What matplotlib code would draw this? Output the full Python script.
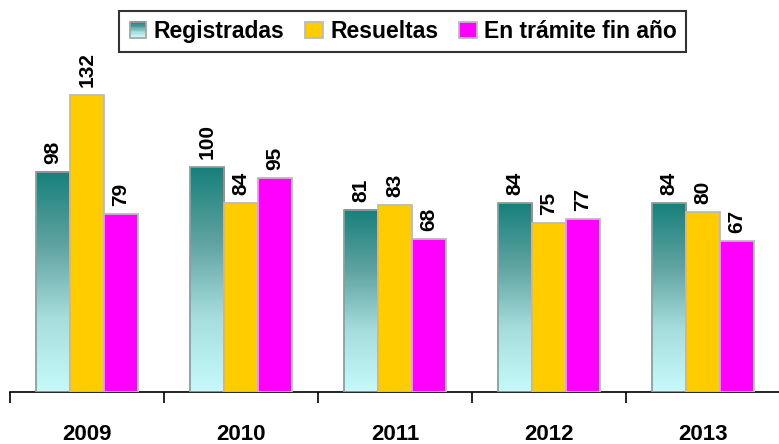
import numpy as np
import matplotlib.pyplot as plt
from matplotlib.colors import LinearSegmentedColormap
from matplotlib.patches import Rectangle
from matplotlib.legend_handler import HandlerBase

plt.rcParams['font.family'] = ['Liberation Sans', 'DejaVu Sans']
plt.rcParams['font.weight'] = 'bold'

years = ['2009', '2010', '2011', '2012', '2013']
registradas = [98, 100, 81, 84, 84]
resueltas = [132, 84, 83, 75, 80]
en_tramite = [79, 95, 68, 77, 67]
series_names = ['Registradas', 'Resueltas', 'En trámite fin año']

yellow = '#FFCC00'
magenta = '#FF00FF'
teal_grad = LinearSegmentedColormap.from_list(
    'teal', ['#C6FAFA', '#A6DEDD', '#5FA3A1', '#17807B'])


class GradientHandler(HandlerBase):
    # legend key drawn as stacked strips, dark on top
    def create_artists(self, legend, orig_handle, xdescent, ydescent,
                       width, height, fontsize, trans):
        side = height * 1.0
        x0 = xdescent + (width - side) / 2
        y0 = -ydescent - (side - height) / 2
        arts = []
        n = 12
        for i in range(n):
            arts.append(Rectangle((x0, y0 + side * i / n), side, side / n + 0.3,
                                  facecolor=teal_grad(i / (n - 1)),
                                  edgecolor='none', transform=trans))
        arts.append(Rectangle((x0, y0), side, side, facecolor='none',
                              edgecolor='#A0A0A0', lw=1.2, transform=trans))
        return arts


fig = plt.figure(figsize=(7.79, 4.44), dpi=100)
ax = fig.add_axes([10 / 779, 52 / 444, 770 / 779, 378 / 444])

x = np.arange(len(years))
w = 0.221
off = 0.169

b1 = ax.bar(x + off, registradas, w, align='edge', facecolor='none',
            edgecolor='#999999', lw=1.3, zorder=3)
b2 = ax.bar(x + off + w, resueltas, w, align='edge', color=yellow,
            edgecolor='#BBBBBB', lw=1.3, zorder=3)
b3 = ax.bar(x + off + 2 * w, en_tramite, w, align='edge', color=magenta,
            edgecolor='#BBBBBB', lw=1.3, zorder=3)

# gradient fill inside the first series
grad = np.linspace(0, 1, 256).reshape(-1, 1)
for bar in b1:
    bx, bw, bh = bar.get_x(), bar.get_width(), bar.get_height()
    ax.imshow(grad, cmap=teal_grad, origin='lower', aspect='auto',
              extent=[bx, bx + bw, 0, bh], zorder=2)

for bars, vals in [(b1, registradas), (b2, resueltas), (b3, en_tramite)]:
    for bar, v in zip(bars, vals):
        ax.text(bar.get_x() + bar.get_width() / 2, v + 3.5, str(v),
                rotation=90, ha='center', va='bottom', fontsize=15,
                fontweight='bold')

ax.set_xlim(0, len(years))
ax.set_ylim(0, 168)
for s in ['left', 'right', 'top']:
    ax.spines[s].set_visible(False)
ax.spines['bottom'].set_linewidth(1.2)
ax.set_yticks([])
ax.set_xticks(np.arange(len(years) + 1))
ax.set_xticklabels([])
ax.set_xticks(x + 0.5, minor=True)
ax.set_xticklabels(years, minor=True, fontsize=16, fontweight='bold')
ax.tick_params(axis='x', which='major', length=8, width=1.2, direction='out')
ax.tick_params(axis='x', which='minor', length=0, pad=23)

proxy = Rectangle((0, 0), 1, 1)
leg = fig.legend([proxy, b2[0], b3[0]], series_names,
                 handler_map={proxy: GradientHandler()},
                 loc='upper center', bbox_to_anchor=(0.517, 1.002), ncol=3,
                 frameon=True, fancybox=False,
                 handlelength=0.8, handletextpad=0.3, columnspacing=0.9,
                 borderpad=0.4, prop={'weight': 'bold', 'size': 16.5})
leg.get_frame().set_edgecolor('black')
leg.get_frame().set_linewidth(1.5)

fig.savefig('out.png', dpi=100)
